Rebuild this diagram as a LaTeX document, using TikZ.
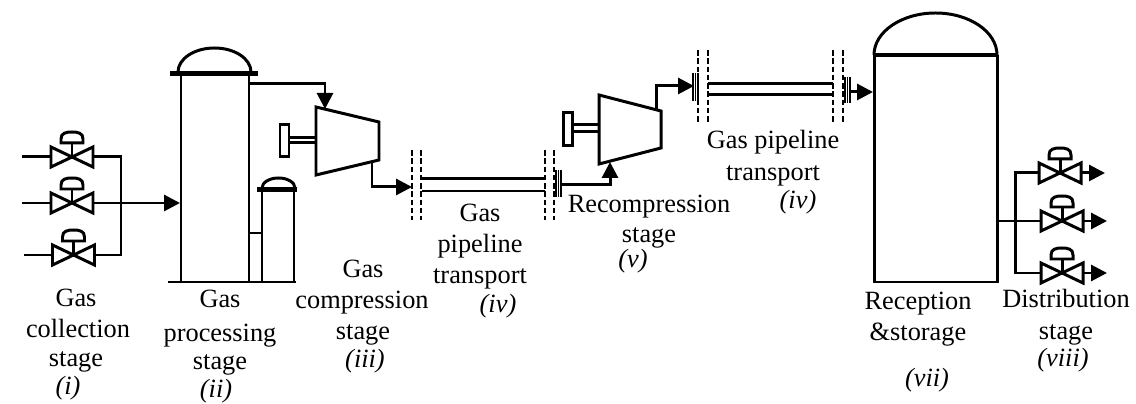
\documentclass[tikz,border=0pt]{standalone}
\usepackage{fontspec}
\setmainfont{Liberation Serif}
\usetikzlibrary{arrows.meta}
\tikzset{
  pipe/.style={line width=1.7pt},
  flow/.style={line width=1.7pt,-{Triangle[length=.32cm,width=.32cm]}},
  lid/.style={line width=3pt},
  cut/.style={line width=1.1pt,dash pattern=on 3.2pt off 1.5pt},
  flange/.style={line width=.6pt},
  flangebar/.style={line width=1.2pt},
  stagetext/.style={font=\fontsize{15}{18}\selectfont,anchor=base},
  stagenum/.style={font=\fontsize{15}{18}\selectfont\itshape,anchor=base}
}
\begin{document}
\begin{tikzpicture}[x=.02cm,y=-.02cm]
\useasboundingbox (0,0) rectangle (1136,404);
%inlet valves
\foreach \x/\y in {72/157,72/203,73.5/255}{
\draw[pipe,shift={(\x,\y)},line join=miter] (-21,-10)--(21,10)--(21,-10)--(-21,10)--cycle;
\draw[pipe,shift={(\x,\y)}] (0,0)--(0,-14);
\draw[pipe,shift={(\x,\y)},fill=white] (-11,-14)--(-11,-18)..controls(-11,-24)and(-6,-25)..(0,-25)..controls(6,-25)and(11,-24)..(11,-18)--(11,-14)--cycle;
\draw[pipe,shift={(\x,\y)}] (-50,0)--(-21,0);
}
\draw[pipe](93,157)--(121,157)--(121,255)--(94.5,255);
\coordinate (inlet mid) at (93,203);
\coordinate (column inlet) at (180,203);
\draw[flow](inlet mid)--(column inlet);
%processing column
\draw[pipe](181,73)--(181,282);
\draw[pipe](249,73)--(249,282);
\draw[pipe](168,282)--(296,282);
\draw[lid](170,73.5)--(258,73.5);
\draw[pipe](178,72)arc(180:360:36.5 and 24);
%small column
\draw[pipe](262,189)--(262,282);
\draw[pipe](294,189)--(294,282);
\draw[lid](257,189.5)--(297,189.5);
\draw[pipe](262,188)arc(180:360:16.5 and 10);
\draw[pipe](249,233)--(262,233);
%first compressor
\draw[pipe,line join=miter](316,107)--(379,122)--(379,160)--(316,175)--cycle;
\draw[pipe](289,138)--(316,138);
\draw[pipe](289,143)--(316,143);
\draw[pipe](280,125)rectangle(289,157);
\coordinate (column top) at (249,84);
\coordinate (comp1 in) at (325,109);
\coordinate (comp1 out) at (372,162);
\coordinate (pipe1 in) at (412,187);
\draw[flow](column top)-|(comp1 in);
\draw[flow](comp1 out)|-(pipe1 in);
%first pipeline
\foreach \x in {412,421,545,554}{
\draw[cut](\x,150)--(\x,220);
}
\draw[pipe](422,179)--(545,179);
\draw[pipe](422,191)--(545,191);
\foreach \x in {556,558.5}{
\draw[flange](\x,170)--(\x,197);
}
\draw[flangebar](561,170)--(561,197);
%second compressor
\draw[pipe,line join=miter](599,95)--(661,111)--(661,148)--(599,164)--cycle;
\draw[pipe](572,125)--(599,125);
\draw[pipe](572,132)--(599,132);
\draw[pipe](563,113)rectangle(572,146);
\coordinate (pipe1 out) at (561,185);
\coordinate (comp2 in) at (610,162);
\coordinate (comp2 out) at (656,111);
\coordinate (pipe2 in) at (694,86);
\draw[flow](pipe1 out)-|(comp2 in);
\draw[flow](comp2 out)|-(pipe2 in);
%second pipeline
\foreach \x in {698,708,833,843}{
\draw[cut](\x,50)--(\x,124);
}
\draw[pipe](708,84)--(833,84);
\draw[pipe](708,95)--(833,95);
\foreach \x in {693,695.5}{
\draw[flange](\x,73)--(\x,101);
}
\draw[flangebar](698,73)--(698,101);
\foreach \x in {845,847.5}{
\draw[flange](\x,77)--(\x,103);
}
\draw[flangebar](850,77)--(850,103);
\coordinate (pipe2 out) at (850,92);
\coordinate (tank inlet) at (873,92);
\draw[flow](pipe2 out)--(tank inlet);
%storage tank
\draw[pipe](874,55)--(874,282)--(997,282)--(997,55);
\draw[line width=2.4pt](874,55)--(997,55);
\draw[pipe](874,55)arc(180:360:61.5 and 42);
%outlet valves
\foreach \x/\y/\t in {1060/173/1105,1062/221/1107,1062/273/1107}{
\draw[pipe,shift={(\x,\y)},line join=miter] (-21,-10)--(21,10)--(21,-10)--(-21,10)--cycle;
\draw[pipe,shift={(\x,\y)}] (0,0)--(0,-14);
\draw[pipe,shift={(\x,\y)},fill=white] (-11,-14)--(-11,-18)..controls(-11,-24)and(-6,-25)..(0,-25)..controls(6,-25)and(11,-24)..(11,-18)--(11,-14)--cycle;
\draw[flow](\x+21,\y)--(\t,\y);
}
\draw[pipe](1040,173)--(1015,173)--(1015,273)--(1042,273);
\draw[pipe](997,221)--(1042,221);
%labels
\node[stagetext](collect a)at(76,307){Gas};
\node[stagetext](collect b)at(78,338){collection};
\node[stagetext](collect c)at(76,367){stage};
\node[stagenum](collect d)at(68,395){(i)};
\node[stagetext](process a)at(220,308){Gas};
\node[stagetext](process b)at(220,342){processing};
\node[stagetext](process c)at(220,370){stage};
\node[stagenum](process d)at(216,398){(ii)};
\node[stagetext](compress a)at(363,278){Gas};
\node[stagetext](compress b)at(362,309){compression};
\node[stagetext](compress c)at(363,340){stage};
\node[stagenum](compress d)at(365,368){(iii)};
\node[stagetext](pipeone a)at(480,222){Gas};
\node[stagetext](pipeone b)at(480,253){pipeline};
\node[stagetext](pipeone c)at(480,284){transport};
\node[stagenum](pipeone d)at(498,313){(iv)};
\node[stagetext](recomp a)at(649,213){Recompression};
\node[stagetext](recomp b)at(649,243){stage};
\node[stagenum](recomp c)at(633,268){(v)};
\node[stagetext](pipetwo a)at(773,149){Gas pipeline};
\node[stagetext](pipetwo b)at(773,181){transport};
\node[stagenum](pipetwo c)at(798,209){(iv)};
\node[stagetext](store a)at(918,310){Reception};
\node[stagetext](store b)at(918,341){\&storage};
\node[stagenum](store c)at(927,387){(vii)};
\node[stagetext](distrib a)at(1066,308){Distribution};
\node[stagetext](distrib b)at(1066,340){stage};
\node[stagenum](distrib c)at(1063,367){(viii)};
\end{tikzpicture}
\end{document}
